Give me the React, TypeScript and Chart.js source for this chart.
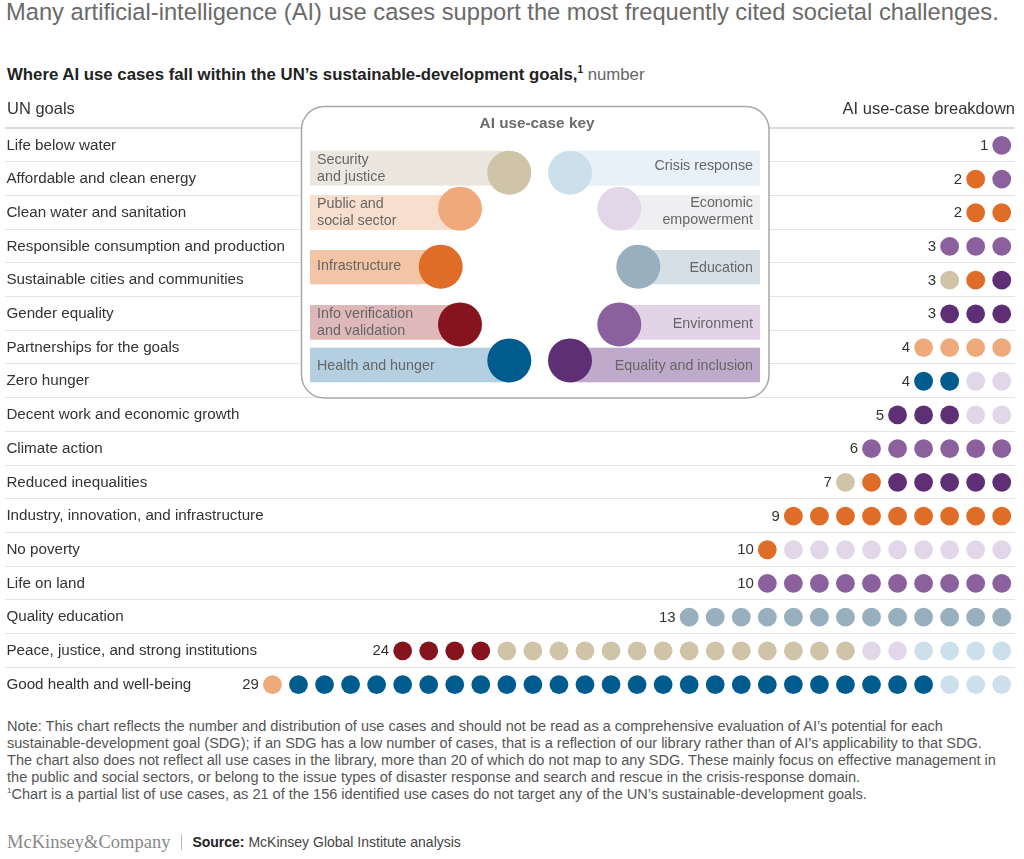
import React, { useEffect, useRef } from "react";
import { Chart, registerables } from "chart.js";

Chart.register(...registerables);

const TITLE =
  "Many artificial-intelligence (AI) use cases support the most frequently cited societal challenges.";
const SUBTITLE_BOLD = "Where AI use cases fall within the UN\u2019s sustainable-development goals,";
const SUBTITLE_UNIT = "number";

const goals = [
  "Life below water",
  "Affordable and clean energy",
  "Clean water and sanitation",
  "Responsible consumption and production",
  "Sustainable cities and communities",
  "Gender equality",
  "Partnerships for the goals",
  "Zero hunger",
  "Decent work and economic growth",
  "Climate action",
  "Reduced inequalities",
  "Industry, innovation, and infrastructure",
  "No poverty",
  "Life on land",
  "Quality education",
  "Peace, justice, and strong institutions",
  "Good health and well-being",
];

const totals = [1, 2, 2, 3, 3, 3, 4, 4, 5, 6, 7, 9, 10, 10, 13, 24, 29];

// order in which categories appear in each row (left to right)
const categories = [
  "Info verification and validation",
  "Security and justice",
  "Public and social sector",
  "Infrastructure",
  "Health and hunger",
  "Equality and inclusion",
  "Environment",
  "Education",
  "Economic empowerment",
  "Crisis response",
];
const categoryColors = [
  "#86141f",
  "#cfc3a8",
  "#eeaa7b",
  "#e06d27",
  "#005b8f",
  "#5e2f74",
  "#8a609d",
  "#98afbe",
  "#e2d7e8",
  "#cce0ec",
];
const keyBarColors = [
  "#dfb8b9",
  "#ebe7de",
  "#f8dfcd",
  "#f3c4a5",
  "#b3cfe1",
  "#c0aacb",
  "#e3d3e7",
  "#d5dfe5",
  "#efeff2",
  "#e8f1f8",
];

// use-case counts per category, in goal order
const infoVerification = [0, 0, 0, 0, 0, 0, 0, 0, 0, 0, 0, 0, 0, 0, 0, 4, 0];
const securityJustice = [0, 0, 0, 0, 1, 0, 0, 0, 0, 0, 1, 0, 0, 0, 0, 14, 0];
const publicSocial = [0, 0, 0, 0, 0, 0, 4, 0, 0, 0, 0, 0, 0, 0, 0, 0, 1];
const infrastructure = [0, 1, 2, 0, 1, 0, 0, 0, 0, 0, 1, 9, 1, 0, 0, 0, 0];
const healthHunger = [0, 0, 0, 0, 0, 0, 0, 2, 0, 0, 0, 0, 0, 0, 0, 0, 25];
const equalityInclusion = [0, 0, 0, 0, 1, 3, 0, 0, 3, 0, 5, 0, 0, 0, 0, 0, 0];
const environment = [1, 1, 0, 3, 0, 0, 0, 0, 0, 6, 0, 0, 0, 10, 0, 0, 0];
const education = [0, 0, 0, 0, 0, 0, 0, 0, 0, 0, 0, 0, 0, 0, 13, 0, 0];
const economicEmpowerment = [0, 0, 0, 0, 0, 0, 0, 2, 2, 0, 0, 0, 9, 0, 0, 2, 0];
const crisisResponse = [0, 0, 0, 0, 0, 0, 0, 0, 0, 0, 0, 0, 0, 0, 0, 4, 3];

const countsByCategory = [
  infoVerification,
  securityJustice,
  publicSocial,
  infrastructure,
  healthHunger,
  equalityInclusion,
  environment,
  education,
  economicEmpowerment,
  crisisResponse,
];

const NOTE_LINES = [
  "Note: This chart reflects the number and distribution of use cases and should not be read as a comprehensive evaluation of AI\u2019s potential for each",
  "sustainable-development goal (SDG); if an SDG has a low number of cases, that is a reflection of our library rather than of AI\u2019s applicability to that SDG.",
  "The chart also does not reflect all use cases in the library, more than 20 of which do not map to any SDG. These mainly focus on effective management in",
  "the public and social sectors, or belong to the issue types of disaster response and search and rescue in the crisis-response domain.",
];
const FOOTNOTE =
  "Chart is a partial list of use cases, as 21 of the 156 identified use cases do not target any of the UN\u2019s sustainable-development goals.";

// ---- layout constants ----
const FONT = "'Liberation Sans', Arial, Helvetica, sans-serif";
const CANVAS_TOP = 96;
const CANVAS_H = 615;
const PAD_LEFT = 7;
const PAD_RIGHT = 2;
const DOT_STEP = 26.3;
const RIGHT_DOT_X = 1009;
const AREA_LEFT = PAD_LEFT;
const AREA_RIGHT = 1024 - PAD_RIGHT;
const X_MIN = -(AREA_RIGHT - RIGHT_DOT_X) / DOT_STEP;
const X_MAX = X_MIN + (AREA_RIGHT - AREA_LEFT) / DOT_STEP;

// key layout (page coordinates)
const KEY_ITEMS = [
  { c: 1, side: "L", y0: 150.7, y1: 185.7, cx: 509.3, cy: 172.7, lines: ["Security", "and justice"], ty: [160, 176.7] },
  { c: 2, side: "L", y0: 195, y1: 230, cx: 460, cy: 208.7, lines: ["Public and", "social sector"], ty: [204.3, 221] },
  { c: 3, side: "L", y0: 250, y1: 284.3, cx: 440.7, cy: 266.7, lines: ["Infrastructure"], ty: [266] },
  { c: 0, side: "L", y0: 305, y1: 339.7, cx: 460, cy: 324.4, lines: ["Info verification", "and validation"], ty: [314, 330.7] },
  { c: 4, side: "L", y0: 347.7, y1: 382.3, cx: 509.3, cy: 360.4, lines: ["Health and hunger"], ty: [366] },
  { c: 9, side: "R", y0: 150.7, y1: 185.7, cx: 570, cy: 172.7, lines: ["Crisis response"], ty: [166] },
  { c: 8, side: "R", y0: 195, y1: 230, cx: 619.3, cy: 208.7, lines: ["Economic", "empowerment"], ty: [203.3, 220] },
  { c: 7, side: "R", y0: 250, y1: 284.3, cx: 638.3, cy: 266.7, lines: ["Education"], ty: [267.7] },
  { c: 6, side: "R", y0: 305, y1: 339.7, cx: 619.3, cy: 324.4, lines: ["Environment"], ty: [324] },
  { c: 5, side: "R", y0: 347.7, y1: 382.3, cx: 570, cy: 360.4, lines: ["Equality and inclusion"], ty: [366] },
];

function roundRect(ctx: CanvasRenderingContext2D, x: number, y: number, w: number, h: number, r: number) {
  ctx.beginPath();
  ctx.moveTo(x + r, y);
  ctx.lineTo(x + w - r, y);
  ctx.arcTo(x + w, y, x + w, y + r, r);
  ctx.lineTo(x + w, y + h - r);
  ctx.arcTo(x + w, y + h, x + w - r, y + h, r);
  ctx.lineTo(x + r, y + h);
  ctx.arcTo(x, y + h, x, y + h - r, r);
  ctx.lineTo(x, y + r);
  ctx.arcTo(x, y, x + r, y, r);
  ctx.closePath();
}

const tablePlugin = {
  id: "tableDecor",
  beforeDatasetsDraw(chart: any) {
    const ctx: CanvasRenderingContext2D = chart.ctx;
    const ys = chart.scales.y;
    const rowH = (ys.bottom - ys.top) / goals.length;
    ctx.save();
    // header texts
    ctx.font = `16.5px ${FONT}`;
    ctx.fillStyle = "#333";
    ctx.textBaseline = "middle";
    ctx.textAlign = "left";
    ctx.fillText("UN goals", 7, 109 - CANVAS_TOP);
    ctx.textAlign = "right";
    ctx.fillText("AI use-case breakdown", 1015, 109 - CANVAS_TOP);
    // row lines
    for (let k = 0; k < goals.length; k++) {
      const y = ys.getPixelForValue(k) - rowH / 2 - 1;
      ctx.beginPath();
      if (k === 0) {
        ctx.lineWidth = 2;
        ctx.strokeStyle = "#dcdcdc";
      } else {
        ctx.lineWidth = 1;
        ctx.strokeStyle = "#e4e4e4";
      }
      const yy = k === 0 ? Math.round(y) : Math.round(y) + 0.5;
      ctx.moveTo(5, yy);
      ctx.lineTo(1015, yy);
      ctx.stroke();
    }
    ctx.restore();
  },
  afterDatasetsDraw(chart: any) {
    const ctx: CanvasRenderingContext2D = chart.ctx;
    const xs = chart.scales.x;
    const ys = chart.scales.y;
    ctx.save();
    // count labels
    ctx.font = `15px ${FONT}`;
    ctx.fillStyle = "#333";
    ctx.textAlign = "right";
    ctx.textBaseline = "middle";
    totals.forEach((n, gi) => {
      const x = xs.getPixelForValue(n - 1) - 13.5;
      const y = ys.getPixelForValue(gi);
      ctx.fillText(String(n), x, y + 0.5);
    });

    // key box
    const off = CANVAS_TOP;
    roundRect(ctx, 301.5, 106.5 - off, 467.5, 291.5, 23);
    ctx.fillStyle = "#ffffff";
    ctx.fill();
    ctx.lineWidth = 1.5;
    ctx.strokeStyle = "#a8a8a8";
    ctx.stroke();

    ctx.font = `bold 15.3px ${FONT}`;
    ctx.fillStyle = "#6b6b6b";
    ctx.textAlign = "center";
    ctx.fillText("AI use-case key", 537, 124 - off);

    KEY_ITEMS.forEach((it) => {
      ctx.fillStyle = keyBarColors[it.c];
      if (it.side === "L") {
        ctx.fillRect(310, it.y0 - off, it.cx - 310, it.y1 - it.y0);
      } else {
        ctx.fillRect(it.cx, it.y0 - off, 760 - it.cx, it.y1 - it.y0);
      }
      ctx.beginPath();
      ctx.arc(it.cx, it.cy - off, 22, 0, Math.PI * 2);
      ctx.fillStyle = categoryColors[it.c];
      ctx.fill();
      ctx.font = `14.3px ${FONT}`;
      ctx.fillStyle = "#666";
      ctx.textAlign = it.side === "L" ? "left" : "right";
      it.lines.forEach((ln, i) => {
        ctx.fillText(ln, it.side === "L" ? 317 : 753, it.ty[i] - off);
      });
    });
    ctx.restore();
  },
};

function buildDatasets() {
  return categories.map((name, c) => {
    const data: { x: number; y: string }[] = [];
    goals.forEach((g, gi) => {
      let n = 0;
      let before = 0;
      countsByCategory.forEach((arr, k) => {
        n += arr[gi];
        if (k < c) before += arr[gi];
      });
      for (let j = 0; j < countsByCategory[c][gi]; j++) {
        data.push({ x: n - 1 - (before + j), y: g });
      }
    });
    return {
      label: name,
      data,
      backgroundColor: categoryColors[c],
      borderWidth: 0,
      pointRadius: 9.4,
      pointHoverRadius: 9.4,
      clip: false as any,
    };
  });
}

function DotChart() {
  const ref = useRef<HTMLCanvasElement>(null);
  useEffect(() => {
    if (!ref.current) return;
    const chart = new Chart(ref.current, {
      type: "scatter",
      data: { datasets: buildDatasets() as any },
      options: {
        animation: false,
        responsive: false,
        maintainAspectRatio: false,
        events: [],
        layout: { padding: { left: PAD_LEFT, right: PAD_RIGHT, top: 32.5, bottom: 9.6 } },
        plugins: { legend: { display: false }, tooltip: { enabled: false } },
        scales: {
          x: { type: "linear", reverse: true, min: X_MIN, max: X_MAX, display: false },
          y: {
            type: "category",
            labels: goals,
            offset: true,
            grid: { display: false, drawTicks: false },
            border: { display: false },
            ticks: {
              mirror: true,
              crossAlign: "near",
              autoSkip: false,
              padding: -3,
              color: "#333",
              font: { family: FONT, size: 15.2 },
            },
            afterFit: (s: any) => {
              s.width = 0;
            },
          },
        } as any,
      },
      plugins: [tablePlugin as any],
    });
    return () => chart.destroy();
  }, []);
  return (
    <canvas
      ref={ref}
      width={1024}
      height={CANVAS_H}
      style={{ position: "absolute", left: 0, top: CANVAS_TOP, width: 1024, height: CANVAS_H }}
    />
  );
}

export default function App() {
  return (
    <div
      style={{
        position: "fixed",
        left: 0,
        top: 0,
        width: 1024,
        height: 859,
        background: "#fff",
        overflow: "hidden",
        fontFamily: FONT,
      }}
    >
      <div
        style={{
          position: "absolute",
          left: 6,
          top: -1,
          fontSize: 23.7,
          lineHeight: "26px",
          color: "#6a6a6a",
          whiteSpace: "nowrap",
        }}
      >
        {TITLE}
      </div>
      <div
        style={{
          position: "absolute",
          left: 7,
          top: 60,
          fontSize: 16.8,
          lineHeight: "20px",
          whiteSpace: "nowrap",
        }}
      >
        <span style={{ fontWeight: "bold", color: "#222" }}>{SUBTITLE_BOLD}</span>
        <sup style={{ fontSize: 10, color: "#222", fontWeight: "bold" }}>1</sup>
        <span style={{ color: "#666" }}> {SUBTITLE_UNIT}</span>
      </div>
      <DotChart />
      <div
        style={{
          position: "absolute",
          left: 7,
          top: 718,
          fontSize: 14.55,
          lineHeight: "17px",
          color: "#555",
          whiteSpace: "nowrap",
        }}
      >
        {NOTE_LINES.map((l, i) => (
          <div key={i}>{l}</div>
        ))}
        <div>
          <sup style={{ fontSize: 8, verticalAlign: "6px", lineHeight: 0 }}>1</sup>
          {FOOTNOTE}
        </div>
      </div>
      <div
        style={{
          position: "absolute",
          left: 7,
          top: 831,
          height: 22,
          display: "flex",
          alignItems: "center",
          whiteSpace: "nowrap",
        }}
      >
        <span style={{ fontFamily: "'Liberation Serif', 'DejaVu Serif', serif", fontSize: 18.5, color: "#888" }}>
          McKinsey&amp;Company
        </span>
        <span style={{ display: "inline-block", width: 1, height: 16, background: "#bbb", margin: "0 10px 0 11px" }} />
        <span style={{ fontSize: 14, color: "#444" }}>
          <b style={{ color: "#222" }}>Source:</b> McKinsey Global Institute analysis
        </span>
      </div>
    </div>
  );
}
